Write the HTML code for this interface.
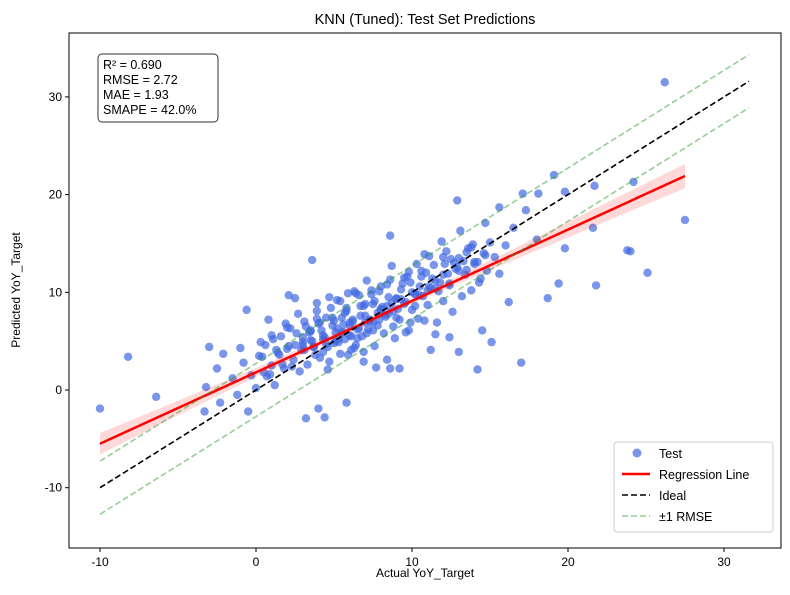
<!DOCTYPE html>
<html><head><meta charset="utf-8"><style>
body{margin:0;background:#fff;font-family:"Liberation Sans",sans-serif;}
svg text{font-family:"Liberation Sans",sans-serif;}
</style></head><body>
<svg id="c" width="790" height="590"></svg>
<script>
const actual=[-10,-8.2,-6.4,-3,-3.2,-3.3,-2.3,-2.5,-2.1,-1,-0.6,-0.5,0.8,2.1,3.6,3.2,4.4,4,5.8,8.6,12.9,15.6,17.1,18.1,19.1,19.8,21.7,24.2,26.2,27.5,25.1,24,23.8,21.6,21.8,19.8,19.4,18.7,16.2,18,17.3,14.7,11.2,12.4,9.2,8.6,7.7,
-1.5,-1.2,-0.8,-0.3,0,0.2,0.5,0.6,1,1.2,1.4,1.6,1.8,2,2.2,2.4,2.6,2.8,3,3.1,3.3,3.5,3.7,3.9,4.1,4.3,4.5,4.7,4.9,5,5.2,5.4,5.6,5.8,6,6.1,6.3,6.5,6.7,6.9,7,7.2,7.4,7.6,7.8,8,8.2,8.4,8.6,8.8,9,9.2,9.4,9.6,9.8,10,10.2,10.4,10.6,10.8,11,11.2,11.4,11.6,11.8,12,12.2,12.4,12.6,12.8,13,13.2,13.4,13.6,13.8,14,14.2,14.4,14.6,14.8,15,15.3,15.6,16,16.5,17,
0.3,0.7,1.1,1.5,1.9,2.3,2.7,3.1,3.5,3.9,4.3,4.7,5.1,5.5,5.9,6.3,6.7,7.1,7.5,7.9,8.3,8.7,9.1,9.5,9.9,10.3,10.7,11.1,11.5,11.9,12.3,12.7,13.1,13.5,13.9,14.3,14.7,15.1,
1,2,3,4,5,6,7,8,9,10,11,12,13,2.5,3.5,4.5,5.5,6.5,7.5,8.5,9.5,10.5,11.5,4.2,5.3,6.2,7.3,8.1,6.8,5.7,
2.9,3.2,3.6,3.8,4.1,4.4,4.6,4.9,5.1,5.3,5.6,5.8,6,6.2,6.4,6.6,6.9,7.1,7.3,7.6,7.8,8,8.3,8.5,8.7,9,9.3,9.6,9.9,10.2,10.5,10.9,11.3,11.7,12.1,12.5,13,13.5,14,14.5,
3,3.4,3.9,4.3,4.8,5.2,5.7,6.1,6.6,7,7.5,7.9,8.4,8.8,9.3,9.7,10.2,10.6,11.1,11.5,12,12.4,12.9,13.3,13.8,14.2,
0.4,0.9,1.3,1.7,2.1,2.5,5.4,6.4,7.4,8.4,5.9,6.9,4.6,3.7,8.9,9.8,10.8,11.8];
const predicted=[-1.9,3.4,-0.7,4.4,0.3,-2.2,-1.3,2.2,3.7,4.3,8.2,-2.2,7.2,9.7,13.3,-2.9,-2.8,-1.9,-1.3,15.8,19.4,18.7,20.1,20.1,22,20.3,20.9,21.3,31.5,17.4,12,14.2,14.3,16.6,10.7,14.5,10.9,9.4,9,15.4,18.4,17.1,4.1,5.4,2.2,2.2,2.3,
1.2,-0.5,2.8,1.5,0.2,3.5,1.8,4.6,2.5,0.5,3.8,5.5,2.2,4.2,6.3,3.1,5.8,1.9,4.9,7,2.6,6.1,4.4,8.1,3.3,5.6,7.4,2.9,6.6,4.8,9.2,3.7,5.9,8.4,6.9,4.1,10.1,5.3,7.6,3.9,8.8,6.2,9.8,4.5,7.9,10.6,5.8,8.6,11.3,6.5,9.4,7.2,10.9,5.9,12.1,8.2,9.9,7.3,11.6,13.9,8.7,10.4,12.8,6.9,11,9.1,14.2,10.7,8,12.4,13.5,9.6,11.8,14.5,10.2,12.9,13.1,11.4,14,12.2,15.1,13.6,11.9,14.8,16.6,
2.8,4.9,1.4,5.2,3.6,6.8,2.4,7.8,4.1,6,8.9,3.9,9.5,5,7.4,9.9,4.3,8.6,11.2,6.1,10.1,7.5,12.7,8.3,11.5,6.9,12.9,9.6,13.7,10.4,15.2,11.9,13,16.3,12.3,14.9,11,13.8,
4.9,5.6,6.4,5.4,6.8,7.1,6.6,7.6,8.2,9.3,10,10.2,11.8,3.9,4.6,5.1,4.7,5.9,6.2,6.9,7.8,8.8,9.7,5.7,6.1,5.2,7,7.2,8.5,5.5,
5.2,4.1,6.5,5,3.6,6.9,5.4,4.4,7.4,5.9,4.9,6.7,8.1,5.6,7.2,4.6,6.3,8.6,5.8,7,9.1,6.6,8.3,7.7,9.5,8.9,7.4,10.3,9,11,8.6,10.6,12,11.4,10.1,12.9,13.4,12.2,14.1,13.1,
6.1,4.6,5.9,7.3,5.2,8.4,6.3,7.9,5.5,9.7,6.9,8.8,7.2,10.8,8.1,9.3,11.6,9.8,12.2,10.6,11.2,13.6,10.9,12.6,13.2,14.6,
2.1,3.4,1.6,4.1,2.6,4.5,9.4,9.1,9.9,10.2,3.1,3.6,2.9,2.1,4.4,5.3,6.1,7.1];
const xTicks=[-10,0,10,20,30];
const yTicks=[-10,0,10,20,30];
const regStart=[-10,-5.5], regEnd=[27.5,21.9];
const bandXs=[-10,-5,0,5,10,15,20,27.5];
const bandHalf=[1.1,0.75,0.45,0.3,0.3,0.5,0.8,1.25];
const rmse=2.72;
const stats=["R² = 0.690","RMSE = 2.72","MAE = 1.93","SMAPE = 42.0%"];

const NS="http://www.w3.org/2000/svg";
const svg=document.getElementById('c');
const L=69,R=781,T=33,B=548;
const sx=v=>256+(v)*15.6;
const sy=v=>390-(v)*9.77;
function mk(tag,attrs,parent){const e=document.createElementNS(NS,tag);for(const k in attrs)e.setAttribute(k,attrs[k]);(parent||svg).appendChild(e);return e;}
function txt(s,attrs){const e=mk('text',attrs);e.textContent=s;return e;}

const clip=mk('clipPath',{id:'pc'});mk('rect',{x:L,y:T,width:R-L,height:B-T},clip);
const g=mk('g',{'clip-path':'url(#pc)'});



for(let i=0;i<actual.length;i++){
 const c=mk('circle',{cx:sx(actual[i]),cy:sy(predicted[i]),r:4.2,fill:'#4169e1','fill-opacity':0.7},g);
 
 
}
const slope=(regEnd[1]-regStart[1])/(regEnd[0]-regStart[0]);
const reg=x=>regStart[1]+slope*(x-regStart[0]);
let up=[],dn=[];
for(let i=0;i<bandXs.length;i++){up.push(sx(bandXs[i])+','+sy(reg(bandXs[i])+bandHalf[i]));dn.unshift(sx(bandXs[i])+','+sy(reg(bandXs[i])-bandHalf[i]));}
const band=mk('polygon',{points:up.concat(dn).join(' '),fill:'red','fill-opacity':0.15},g);


const rl=mk('line',{x1:sx(regStart[0]),y1:sy(regStart[1]),x2:sx(regEnd[0]),y2:sy(regEnd[1]),stroke:'red','stroke-width':2.5},g);


const i0=-10,i1=31.6;
const id=mk('line',{x1:sx(i0),y1:sy(i0),x2:sx(i1),y2:sy(i1),stroke:'#000','stroke-width':1.6,'stroke-dasharray':'6,3'},g);


for(const s of [1,-1]){
 const l=mk('line',{x1:sx(i0),y1:sy(i0+s*rmse),x2:sx(i1),y2:sy(i1+s*rmse),stroke:'#2ca02c','stroke-opacity':0.5,'stroke-width':1.6,'stroke-dasharray':'6,3'},g);
 
 
}
mk('rect',{x:L,y:T,width:R-L,height:B-T,fill:'none',stroke:'#000','stroke-width':1});
for(const t of xTicks){mk('line',{x1:sx(t),x2:sx(t),y1:B,y2:B+4,stroke:'#000'});
 const e=txt(t,{x:sx(t),y:B+18,'text-anchor':'middle','font-size':12});
 }
for(const t of yTicks){mk('line',{x1:L-4,x2:L,y1:sy(t),y2:sy(t),stroke:'#000'});
 const e=txt(t,{x:L-7,y:sy(t)+4,'text-anchor':'end','font-size':12});
 }
let e=txt('KNN (Tuned): Test Set Predictions',{x:(L+R)/2,y:24,'text-anchor':'middle','font-size':14.5});

e=txt('Actual YoY_Target',{x:(L+R)/2,y:577,'text-anchor':'middle','font-size':12});

e=txt('Predicted YoY_Target',{x:0,y:0,'text-anchor':'middle','font-size':12,transform:'translate(20,290) rotate(-90)'});

const sb=mk('rect',{x:98,y:54,width:120,height:68,rx:4,fill:'#fff','fill-opacity':0.8,stroke:'#333'});

stats.forEach((s,i)=>{const t=txt(s,{x:103,y:69+i*15,'font-size':12.5});});
const lg=mk('rect',{x:614,y:442,width:159,height:90,rx:3,fill:'#fff','fill-opacity':0.8,stroke:'#ccc'});

mk('circle',{cx:637,cy:453,r:4.5,fill:'#4169e1','fill-opacity':0.7});
mk('line',{x1:622,x2:650,y1:474,y2:474,stroke:'red','stroke-width':2.5});
mk('line',{x1:622,x2:650,y1:495,y2:495,stroke:'#000','stroke-width':1.6,'stroke-dasharray':'6,3'});
mk('line',{x1:622,x2:650,y1:516,y2:516,stroke:'#2ca02c','stroke-opacity':0.5,'stroke-width':1.6,'stroke-dasharray':'6,3'});
["Test","Regression Line","Ideal","±1 RMSE"].forEach((s,i)=>{const t=txt(s,{x:659,y:458+i*21,'font-size':12.5});});
</script>
</body></html>
